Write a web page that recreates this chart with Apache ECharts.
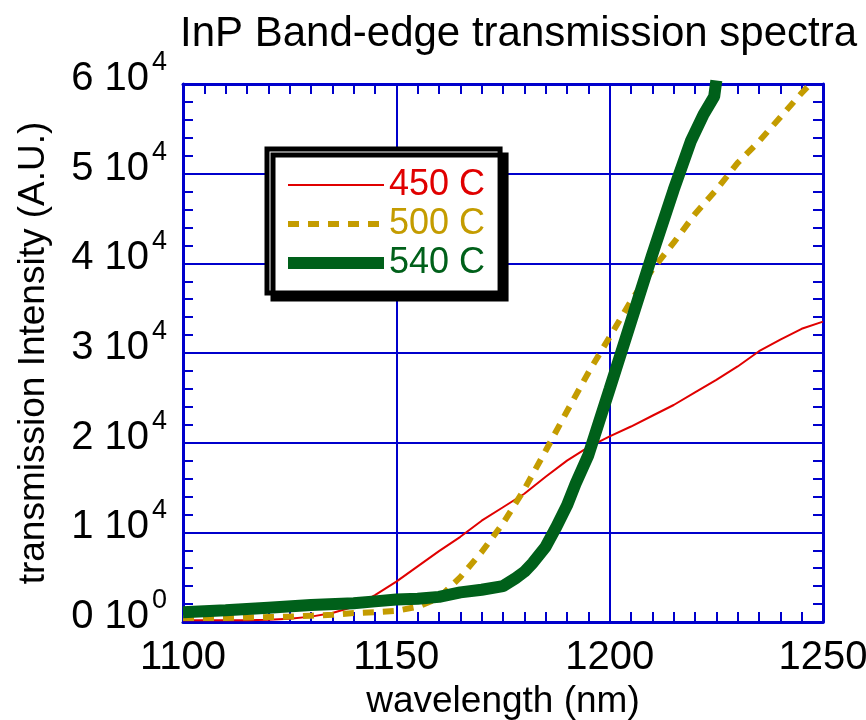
<!DOCTYPE html>
<html><head><meta charset="utf-8">
<script src="https://cdn.jsdelivr.net/npm/echarts@6/dist/echarts.min.js"></script>
<style>html,body{margin:0;padding:0;background:#fff}#c{width:866px;height:720px}</style>
</head><body><div id="c"></div><script>
const titleText = 'InP Band-edge transmission spectra';
const xTicks = [1100, 1150, 1200, 1250];
const yTickExponents = ['0', '4', '4', '4', '4', '4', '4'];
const seriesNames = ['450 C', '500 C', '540 C'];

const x450 = [1100,1105,1110,1115,1120,1125,1130,1135,1140,1145,1150,1155,1160,1165,1170,1175,1180,1185,1190,1195,1200,1205,1210,1215,1220,1225,1230,1235,1240,1245,1250];
const y450 = [200,200,200,200,250,350,600,1000,1700,3000,4500,6200,7900,9500,11300,12800,14300,16200,18000,19500,20700,21800,23000,24200,25600,27000,28500,30200,31500,32700,33500];

const x500 = [1100,1105,1110,1115,1120,1125,1130,1135,1140,1145,1150,1155,1160,1165,1170,1175,1180,1185,1190,1195,1200,1205,1210,1215,1220,1225,1230,1235,1240,1245,1247];
const y500 = [450,450,450,500,550,600,700,800,1000,1100,1250,1700,2700,5000,7800,11000,14800,19100,23500,27800,31800,35800,39300,42300,45500,48200,51200,53600,56300,59000,60000];

const x540 = [1100,1110,1120,1130,1140,1145,1150,1155,1160,1165,1170,1175,1178,1180,1182,1185,1187.5,1190,1192,1195,1200,1205,1210,1215,1219,1222,1224.5,1225];
const y540 = [1100,1300,1600,1900,2100,2300,2500,2600,2800,3300,3600,4000,4900,5600,6600,8400,10600,13000,15400,18600,26000,33500,41000,48200,53600,56600,58600,60400];

const BLUE = '#0000cc';
const FONT = '"Liberation Sans", Arial, sans-serif';
const colors = ['#e00000', '#c49c00', '#00601a'];

const zip = (xs, ys) => xs.map((x, i) => [x, ys[i]]);

const axisCommon = {
  axisLine: { show: true, onZero: false, lineStyle: { color: BLUE, width: 3 } },
  axisTick: { show: true, inside: true, length: 10, lineStyle: { color: BLUE, width: 2 } },
};

const chart = echarts.init(document.getElementById('c'));
chart.setOption({
  animation: false,
  backgroundColor: '#fff',
  title: {
    text: titleText, left: 175, top: 8,
    textStyle: { fontFamily: FONT, fontSize: 42, fontWeight: 'normal', color: '#000' }
  },
  grid: { left: 183, right: 43, top: 84, bottom: 98, containLabel: false, outerBoundsMode: 'none' },
  legend: {
    orient: 'vertical', left: 267, top: 149,
    padding: [18, 15, 12, 15], itemGap: 3, itemWidth: 96, itemHeight: 14,
    backgroundColor: '#fff', borderColor: '#000', borderWidth: 5,
    shadowColor: '#000', shadowBlur: 0, shadowOffsetX: 6, shadowOffsetY: 6,
    textStyle: { fontFamily: FONT, fontSize: 36, lineHeight: 36 },
    itemStyle: { opacity: 0 },
    data: seriesNames.map((n, i) => ({
      name: n,
      textStyle: { color: colors[i] },
      itemStyle: { opacity: 0 },
      lineStyle: [{ width: 2 }, { width: 6, type: [11, 9] }, { width: 12 }][i]
    }))
  },
  xAxis: [
    Object.assign({}, axisCommon, {
      type: 'value', min: xTicks[0], max: xTicks[xTicks.length - 1], interval: 50,
      position: 'bottom',
      name: 'wavelength (nm)', nameLocation: 'middle', nameGap: 51,
      nameTextStyle: { fontFamily: FONT, fontSize: 37, color: '#000' },
      axisLabel: { show: true, margin: 16, fontFamily: FONT, fontSize: 40, color: '#000',
        formatter: (v) => String(v) },
      minorTick: { show: true, splitNumber: 10, length: 10, lineStyle: { color: BLUE, width: 2 } },
      splitLine: { show: true, lineStyle: { color: BLUE, width: 2 } },
    }),
    Object.assign({}, axisCommon, {
      type: 'value', min: xTicks[0], max: xTicks[xTicks.length - 1], interval: 50,
      position: 'top',
      axisLabel: { show: false },
      minorTick: { show: true, splitNumber: 10, length: 10, lineStyle: { color: BLUE, width: 2 } },
      splitLine: { show: false },
    })
  ],
  yAxis: [
    Object.assign({}, axisCommon, {
      type: 'value', min: 0, max: 60000, interval: 10000, position: 'left',
      name: 'transmission Intensity (A.U.)', nameLocation: 'middle', nameGap: 131, nameRotate: 90,
      nameTextStyle: { fontFamily: FONT, fontSize: 37, color: '#000' },
      axisLabel: {
        show: true, margin: 16, padding: [0, 0, 10, 0],
        formatter: (v) => {
          const i = Math.round(v / 10000);
          return '{m|' + i + ' 10}{s|' + yTickExponents[i] + '}';
        },
        rich: {
          m: { fontFamily: FONT, fontSize: 40, lineHeight: 60, color: '#000' },
          s: { fontFamily: FONT, fontSize: 27, color: '#000', verticalAlign: 'top', padding: [0, 0, 0, 3] }
        }
      },
      minorTick: { show: true, splitNumber: 5, length: 10, lineStyle: { color: BLUE, width: 2 } },
      splitLine: { show: true, lineStyle: { color: BLUE, width: 2 } },
    }),
    Object.assign({}, axisCommon, {
      type: 'value', min: 0, max: 60000, interval: 10000, position: 'right',
      axisLabel: { show: false },
      minorTick: { show: true, splitNumber: 5, length: 10, lineStyle: { color: BLUE, width: 2 } },
      splitLine: { show: false },
    })
  ],
  series: [
    { name: seriesNames[0], type: 'line', data: zip(x450, y450), symbol: 'none', clip: false, z: 3,
      lineStyle: { color: colors[0], width: 2 }, itemStyle: { color: colors[0] } },
    { name: seriesNames[1], type: 'line', data: zip(x500, y500), symbol: 'none', clip: false, z: 4,
      lineStyle: { color: colors[1], width: 6, type: [11, 9] }, itemStyle: { color: colors[1] } },
    { name: seriesNames[2], type: 'line', data: zip(x540, y540), symbol: 'none', clip: false, z: 5,
      lineStyle: { color: colors[2], width: 12 }, itemStyle: { color: colors[2] } },
  ]
});
</script></body></html>
